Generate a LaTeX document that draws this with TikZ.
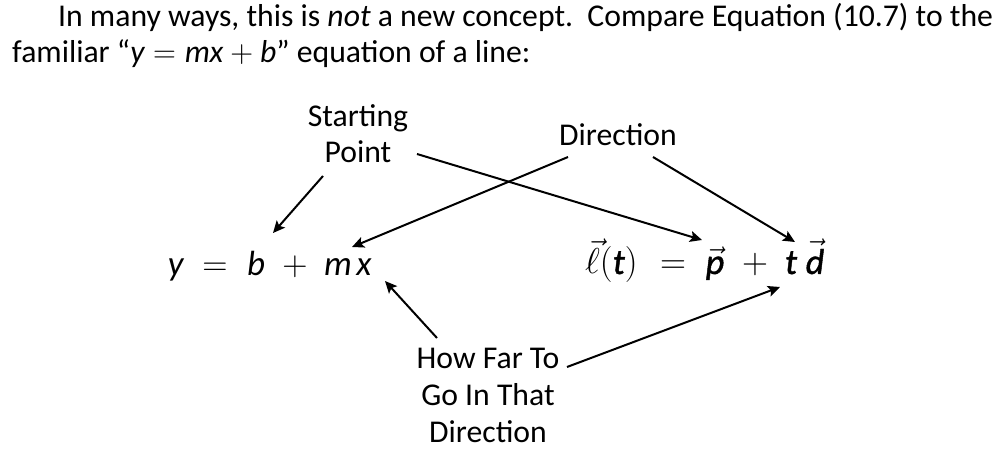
\RequirePackage{fix-cm}
\documentclass[tikz,border=0pt]{standalone}
\usepackage{fontspec}
\setmainfont{Carlito}
\newfontfamily\semibold[FakeBold=1.2]{Carlito}
\usetikzlibrary{arrows.meta}
\begin{document}
\begin{tikzpicture}[x=1pt,y=-1pt,
  txt/.style={font=\fontsize{31.7}{37}\selectfont, inner sep=0pt, anchor=base},
  eq/.style={font=\fontsize{35}{40}\selectfont, inner sep=0pt, anchor=base},
  eqr/.style={font=\fontsize{36}{42}\selectfont, inner sep=0pt, anchor=base},
  arr/.style={line width=2pt, -{Stealth[length=12pt,width=11pt,inset=2.5pt]}}]
\useasboundingbox (0,0) rectangle (993,462);
% paragraph
\node[txt, anchor=base west] (p1) at (58,27) {In many ways, this is \textit{not} a new concept.\ \ Compare Equation (10.7) to the};
\node[txt, anchor=base west] (p2) at (12,63) {familiar “$\mbox{\itshape y} = \mbox{\itshape mx} + \mbox{\itshape b}$” equation of a line:};
% left equation
\node[eq] (ly) at (176,276) {\textit{y}};
\node[eq] (leq) at (215,276) {$=$};
\node[eq] (lb) at (256,276) {\textit{b}};
\node[eq] (lplus) at (295,276) {$+$};
\node[eq] (lm) at (338,276) {\textit{m}};
\node[eq] (lx) at (364,276) {\textit{x}};
% right equation
\node[eqr, anchor=base west] (rl) at (585,274) {$\vec{\ell}($\semibold\itshape t$)$};
\node[eqr] (req) at (673,274) {$=$};
\node[eqr] (rp) at (715,274) {$\vec{\mbox{\semibold\itshape p}}$};
\node[eqr] (rplus) at (755,274) {$+$};
\node[eqr] (rt) at (791,274) {\semibold\itshape t};
\node[eqr] (rd) at (815,274) {$\vec{\mbox{\semibold\itshape d}}$};
% labels
\node[txt] (sp1) at (358,127) {Starting};
\node[txt] (sp2) at (358,163) {Point};
\node[txt] (dir) at (618,146) {Direction};
\node[txt] (hf1) at (488,368) {How Far To};
\node[txt] (hf2) at (488,405) {Go In That};
\node[txt] (hf3) at (488,442) {Direction};
% arrow ends
\coordinate (a1s) at (323,176); \coordinate (a1e) at (273,233);
\coordinate (a2s) at (417,154); \coordinate (a2e) at (702,240);
\coordinate (a3s) at (568,157); \coordinate (a3e) at (352,247);
\coordinate (a4s) at (653,157); \coordinate (a4e) at (795,242);
\coordinate (a5s) at (437,338); \coordinate (a5e) at (385,281);
\coordinate (a6s) at (567,367); \coordinate (a6e) at (780,287);
\draw[arr] (a1s) -- (a1e);
\draw[arr] (a2s) -- (a2e);
\draw[arr] (a3s) -- (a3e);
\draw[arr] (a4s) -- (a4e);
\draw[arr] (a5s) -- (a5e);
\draw[arr] (a6s) -- (a6e);
\end{tikzpicture}
\end{document}
